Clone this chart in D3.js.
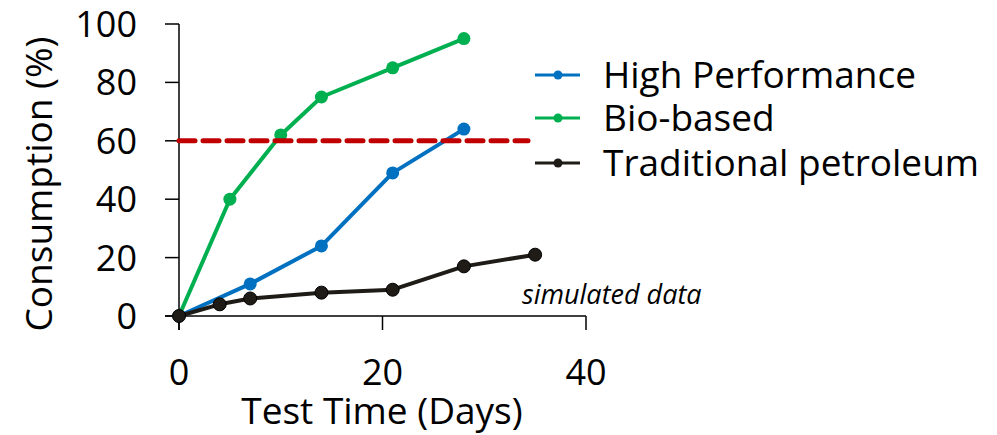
<!DOCTYPE html>
<html>
<head>
<meta charset="utf-8">
<script src="https://cdn.jsdelivr.net/npm/d3@7"></script>
<style>
  html, body { margin: 0; padding: 0; background: #fff; }
  svg { display: block; }
  text { font-family: "Open Sans", "Noto Sans", sans-serif; fill: #000; }
</style>
</head>
<body>
<svg id="chart" width="997" height="435"></svg>
<script>
// Consumption over time for three lubricant classes
const highDays = [0, 7, 14, 21, 28];
const highValues = [0, 11, 24, 49, 64];
const bioDays = [0, 5, 10, 14, 21, 28];
const bioValues = [0, 40, 62, 75, 85, 95];
const petroDays = [0, 4, 7, 14, 21, 28, 35];
const petroValues = [0, 4, 6, 8, 9, 17, 21];
const seriesNames = ["High Performance", "Bio-based", "Traditional petroleum"];
const seriesColors = ["#0070C0", "#00B050", "#1F1C17"];
const thresholdValue = 60;
const thresholdEndDay = 34.3;
const xTicks = [0, 20, 40];
const yTicks = [0, 20, 40, 60, 80, 100];

const svg = d3.select("#chart");
const x = d3.scaleLinear().domain([0, 40]).range([179, 586]);
const y = d3.scaleLinear().domain([0, 100]).range([316, 24]);

// Axes (each axis line overshoots past the origin)
const axisG = svg.append("g").attr("stroke", "#000").attr("stroke-width", 1.5);
axisG.append("line").attr("x1", x(0)).attr("x2", x(0)).attr("y1", y(100)).attr("y2", y(0) + 14);
axisG.append("line").attr("x1", x(0) - 14).attr("x2", x(40)).attr("y1", y(0)).attr("y2", y(0));
axisG.selectAll(".yt").data(yTicks).enter().append("line")
  .attr("x1", x(0) - 14).attr("x2", x(0)).attr("y1", d => y(d)).attr("y2", d => y(d));
axisG.selectAll(".xt").data(xTicks).enter().append("line")
  .attr("x1", d => x(d)).attr("x2", d => x(d)).attr("y1", y(0)).attr("y2", y(0) + 14);

svg.selectAll(".ylab").data(yTicks).enter().append("text")
  .attr("x", 137).attr("y", d => y(d)).attr("dy", "0.36em")
  .attr("text-anchor", "end").attr("font-size", 36).text(d => d);
svg.selectAll(".xlab").data(xTicks).enter().append("text")
  .attr("x", d => x(d)).attr("y", 385)
  .attr("text-anchor", "middle").attr("font-size", 36).text(d => d);

svg.append("text").attr("transform", "translate(52,184) rotate(-90)")
  .attr("text-anchor", "middle").attr("font-size", 37).text("Consumption (%)");
svg.append("text").attr("x", 382).attr("y", 424)
  .attr("text-anchor", "middle").attr("font-size", 37).text("Test Time (Days)");

svg.append("text").attr("x", 522).attr("y", 304)
  .attr("font-size", 27).attr("font-style", "italic").text("simulated data");

// Series
const line = d3.line().x(d => x(d[0])).y(d => y(d[1]));
const series = [
  { days: bioDays, values: bioValues, color: seriesColors[1] },
  { days: highDays, values: highValues, color: seriesColors[0] },
  { days: petroDays, values: petroValues, color: seriesColors[2] }
];
series.forEach(s => {
  const pts = s.days.map((d, i) => [d, s.values[i]]);
  const g = svg.append("g");
  g.append("path").datum(pts).attr("d", line)
    .attr("fill", "none").attr("stroke", s.color).attr("stroke-width", 4)
    .attr("stroke-linejoin", "round");
  g.selectAll("circle").data(pts).enter().append("circle")
    .attr("cx", d => x(d[0])).attr("cy", d => y(d[1])).attr("r", 6.5)
    .attr("fill", s.color).attr("stroke", s.color === seriesColors[2] ? "#000" : "none")
    .attr("stroke-width", 1);
});

// 60% threshold
svg.append("line")
  .attr("x1", x(0)).attr("x2", x(thresholdEndDay))
  .attr("y1", y(thresholdValue)).attr("y2", y(thresholdValue))
  .attr("stroke", "#C00000").attr("stroke-width", 5)
  .attr("stroke-dasharray", "16,8").attr("stroke-linecap", "round");

// Legend
const legendRows = [75, 118, 163];
const legend = svg.append("g");
seriesNames.forEach((name, i) => {
  const row = legend.append("g").attr("transform", `translate(0,${legendRows[i]})`);
  row.append("line").attr("x1", 535).attr("x2", 580).attr("y1", 0).attr("y2", 0)
    .attr("stroke", seriesColors[i]).attr("stroke-width", 3);
  row.append("circle").attr("cx", 558).attr("cy", 0).attr("r", 4.5).attr("fill", seriesColors[i]);
  row.append("text").attr("x", 603).attr("y", 0).attr("dy", "0.35em")
    .attr("font-size", 37).text(name);
});
</script>
</body>
</html>
